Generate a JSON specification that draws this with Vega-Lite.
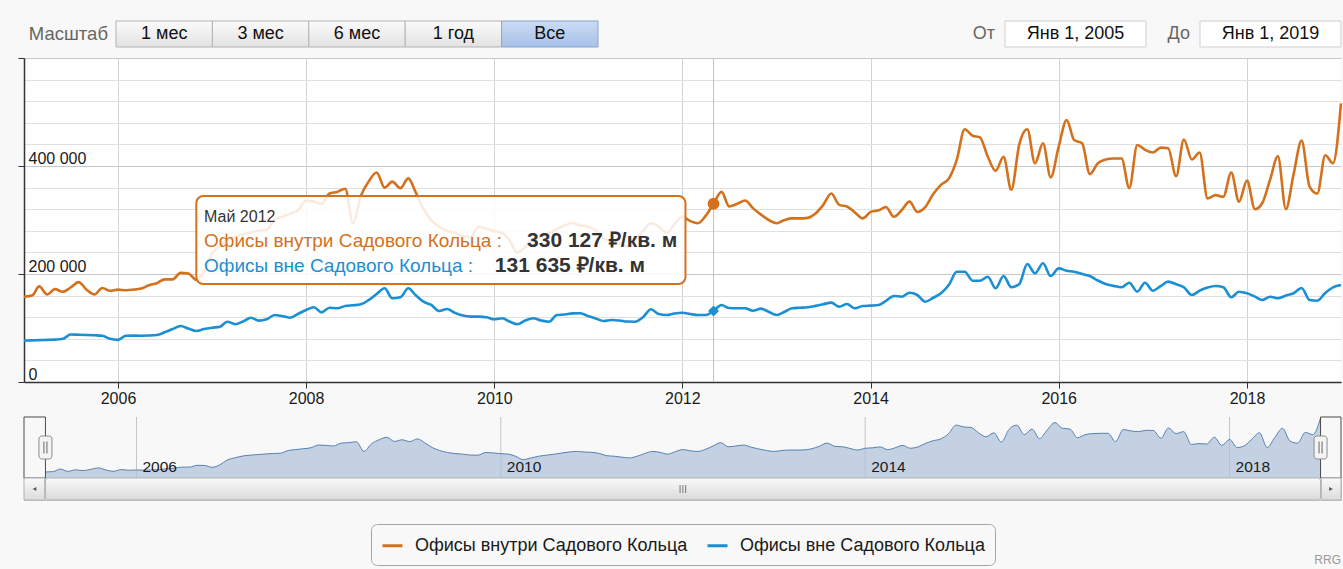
{
 "$schema": "https://vega.github.io/schema/vega-lite/v6.json",
 "background": "#f8f8f8",
 "padding": {"left": 17, "top": 0, "right": 0, "bottom": 0},
 "autosize": {"type": "pad"},
 "bounds": "flush",
 "spacing": 0,
 "config": {"view": {"stroke": null}, "font": "Liberation Sans"},
 "datasets": {
  "m": [
   {"d":"2005-01","in":158000,"out":76500},{"d":"2005-02","in":160000,"out":77000},{"d":"2005-03","in":177000,"out":77500},{"d":"2005-04","in":162000,"out":78000},{"d":"2005-05","in":172000,"out":78500},{"d":"2005-06","in":167000,"out":80000},{"d":"2005-07","in":175000,"out":88000},{"d":"2005-08","in":185000,"out":87500},{"d":"2005-09","in":171000,"out":87000},{"d":"2005-10","in":162000,"out":86500},{"d":"2005-11","in":174000,"out":85700},{"d":"2005-12","in":169000,"out":80000},
   {"d":"2006-01","in":171000,"out":78000},{"d":"2006-02","in":170000,"out":85700},{"d":"2006-03","in":171000,"out":85800},{"d":"2006-04","in":173000,"out":85700},{"d":"2006-05","in":179000,"out":86000},{"d":"2006-06","in":183000,"out":87000},{"d":"2006-07","in":190000,"out":92000},{"d":"2006-08","in":190000,"out":98000},{"d":"2006-09","in":202000,"out":103700},{"d":"2006-10","in":201000,"out":99000},{"d":"2006-11","in":189000,"out":94400},{"d":"2006-12","in":205000,"out":98000},
   {"d":"2007-01","in":238000,"out":100500},{"d":"2007-02","in":252000,"out":102400},{"d":"2007-03","in":263000,"out":111700},{"d":"2007-04","in":269000,"out":107000},{"d":"2007-05","in":273000,"out":112000},{"d":"2007-06","in":277000,"out":119100},{"d":"2007-07","in":280000,"out":113600},{"d":"2007-08","in":282000,"out":116000},{"d":"2007-09","in":300000,"out":124100},{"d":"2007-10","in":306000,"out":122000},{"d":"2007-11","in":312000,"out":119100},{"d":"2007-12","in":318000,"out":126000},
   {"d":"2008-01","in":336000,"out":133300},{"d":"2008-02","in":334000,"out":138300},{"d":"2008-03","in":330000,"out":129000},{"d":"2008-04","in":349000,"out":137600},{"d":"2008-05","in":352000,"out":136500},{"d":"2008-06","in":358000,"out":140700},{"d":"2008-07","in":294000,"out":142000},{"d":"2008-08","in":345000,"out":143800},{"d":"2008-09","in":372000,"out":152000},{"d":"2008-10","in":388000,"out":163000},{"d":"2008-11","in":360000,"out":173500},{"d":"2008-12","in":371000,"out":155000},
   {"d":"2009-01","in":359000,"out":156900},{"d":"2009-02","in":377000,"out":173500},{"d":"2009-03","in":352000,"out":161100},{"d":"2009-04","in":320000,"out":148700},{"d":"2009-05","in":300000,"out":142600},{"d":"2009-06","in":287000,"out":131500},{"d":"2009-07","in":280000,"out":135200},{"d":"2009-08","in":276000,"out":128000},{"d":"2009-09","in":270000,"out":123000},{"d":"2009-10","in":269000,"out":121000},{"d":"2009-11","in":287000,"out":121000},{"d":"2009-12","in":284000,"out":120000},
   {"d":"2010-01","in":279000,"out":116100},{"d":"2010-02","in":276000,"out":118000},{"d":"2010-03","in":262000,"out":112000},{"d":"2010-04","in":240000,"out":106900},{"d":"2010-05","in":250000,"out":114000},{"d":"2010-06","in":262000,"out":118000},{"d":"2010-07","in":269000,"out":114000},{"d":"2010-08","in":275000,"out":111700},{"d":"2010-09","in":283000,"out":124100},{"d":"2010-10","in":290000,"out":125000},{"d":"2010-11","in":294000,"out":127000},{"d":"2010-12","in":290000,"out":127200},
   {"d":"2011-01","in":288000,"out":122000},{"d":"2011-02","in":280000,"out":117000},{"d":"2011-03","in":266000,"out":113000},{"d":"2011-04","in":262000,"out":114800},{"d":"2011-05","in":256000,"out":114000},{"d":"2011-06","in":251000,"out":112000},{"d":"2011-07","in":262000,"out":111700},{"d":"2011-08","in":280000,"out":120000},{"d":"2011-09","in":294000,"out":134600},{"d":"2011-10","in":288000,"out":126000},{"d":"2011-11","in":276000,"out":124100},{"d":"2011-12","in":292000,"out":127000},
   {"d":"2012-01","in":306000,"out":128300},{"d":"2012-02","in":298000,"out":126000},{"d":"2012-03","in":294000,"out":124100},{"d":"2012-04","in":308000,"out":124100},{"d":"2012-05","in":330127,"out":131635},{"d":"2012-06","in":352000,"out":142600},{"d":"2012-07","in":325000,"out":137000},{"d":"2012-08","in":330000,"out":136500},{"d":"2012-09","in":336000,"out":136500},{"d":"2012-10","in":322000,"out":132000},{"d":"2012-11","in":310000,"out":135800},{"d":"2012-12","in":300000,"out":130000},
   {"d":"2013-01","in":294000,"out":124100},{"d":"2013-02","in":300000,"out":130000},{"d":"2013-03","in":303000,"out":136500},{"d":"2013-04","in":303000,"out":137500},{"d":"2013-05","in":304000,"out":138300},{"d":"2013-06","in":312000,"out":141000},{"d":"2013-07","in":328000,"out":144000},{"d":"2013-08","in":349000,"out":146900},{"d":"2013-09","in":328000,"out":139500},{"d":"2013-10","in":325000,"out":144400},{"d":"2013-11","in":314000,"out":136500},{"d":"2013-12","in":303000,"out":140700},
   {"d":"2014-01","in":315000,"out":141500},{"d":"2014-02","in":318000,"out":142600},{"d":"2014-03","in":324000,"out":150000},{"d":"2014-04","in":306000,"out":159300},{"d":"2014-05","in":318000,"out":158000},{"d":"2014-06","in":334000,"out":165400},{"d":"2014-07","in":315000,"out":161100},{"d":"2014-08","in":324000,"out":148700},{"d":"2014-09","in":348000,"out":156000},{"d":"2014-10","in":365000,"out":164300},{"d":"2014-11","in":377000,"out":180000},{"d":"2014-12","in":411000,"out":204300},
   {"d":"2015-01","in":468000,"out":204300},{"d":"2015-02","in":456000,"out":187600},{"d":"2015-03","in":453000,"out":187600},{"d":"2015-04","in":417000,"out":195000},{"d":"2015-05","in":391000,"out":173500},{"d":"2015-06","in":417000,"out":196300},{"d":"2015-07","in":356000,"out":175400},{"d":"2015-08","in":440000,"out":181500},{"d":"2015-09","in":468000,"out":218500},{"d":"2015-10","in":405000,"out":201300},{"d":"2015-11","in":442000,"out":219800},{"d":"2015-12","in":379000,"out":196300},
   {"d":"2016-01","in":436000,"out":210500},{"d":"2016-02","in":485000,"out":206000},{"d":"2016-03","in":448000,"out":204300},{"d":"2016-04","in":442000,"out":200000},{"d":"2016-05","in":385000,"out":196300},{"d":"2016-06","in":405000,"out":188000},{"d":"2016-07","in":412000,"out":181500},{"d":"2016-08","in":414000,"out":178000},{"d":"2016-09","in":414000,"out":175400},{"d":"2016-10","in":359000,"out":183900},{"d":"2016-11","in":439000,"out":167200},{"d":"2016-12","in":430000,"out":183900},
   {"d":"2017-01","in":425000,"out":169100},{"d":"2017-02","in":434000,"out":178000},{"d":"2017-03","in":433000,"out":185800},{"d":"2017-04","in":381000,"out":181000},{"d":"2017-05","in":449000,"out":175400},{"d":"2017-06","in":412000,"out":161100},{"d":"2017-07","in":425000,"out":169100},{"d":"2017-08","in":340000,"out":175000},{"d":"2017-09","in":346000,"out":177800},{"d":"2017-10","in":343000,"out":175400},{"d":"2017-11","in":388000,"out":156900},{"d":"2017-12","in":334000,"out":167200},
   {"d":"2018-01","in":373000,"out":164300},{"d":"2018-02","in":320000,"out":158000},{"d":"2018-03","in":331000,"out":151900},{"d":"2018-04","in":375000,"out":158000},{"d":"2018-05","in":418000,"out":155000},{"d":"2018-06","in":320000,"out":160000},{"d":"2018-07","in":385000,"out":164300},{"d":"2018-08","in":447000,"out":174100},{"d":"2018-09","in":362000,"out":151900},{"d":"2018-10","in":349000,"out":150600},{"d":"2018-11","in":420000,"out":165000},{"d":"2018-12","in":405000,"out":175400},
   {"d":"2019-01","in":516000,"out":179600}
  ]
 },
 "vconcat": [
  {
   "width": 1317, "height": 58,
   "layer": [
    {
     "data": {"values": [{"b":"1 мес"},{"b":"3 мес"},{"b":"6 мес"},{"b":"1 год"},{"b":"Все","on":true}]},
     "layer": [
      {"transform":[{"filter":"!datum.on"}],
       "mark":{"type":"rect","stroke":"#b4b4b4","strokeWidth":1,"fill":{"gradient":"linear","x1":0,"y1":0,"x2":0,"y2":1,"stops":[{"offset":0,"color":"#fbfbfb"},{"offset":1,"color":"#e2e2e2"}]}},
       "encoding":{
        "x":{"field":"b","type":"nominal","scale":{"type":"band","domain":["1 мес","3 мес","6 мес","1 год","Все"],"range":[92,574],"paddingInner":0,"paddingOuter":0},"axis":null},
        "y":{"datum":"r","type":"nominal","scale":{"type":"band","domain":["r"],"range":[21,47],"paddingInner":0,"paddingOuter":0},"axis":null}}},
      {"transform":[{"filter":"datum.on"}],
       "mark":{"type":"rect","stroke":"#89a4d0","strokeWidth":1,"fill":{"gradient":"linear","x1":0,"y1":0,"x2":0,"y2":1,"stops":[{"offset":0,"color":"#cbdbf3"},{"offset":1,"color":"#a8c1e9"}]}},
       "encoding":{
        "x":{"field":"b","type":"nominal","axis":null},
        "y":{"datum":"r","type":"nominal","axis":null}}},
      {"mark":{"type":"text","fontSize":18,"color":"#111111","baseline":"middle"},
       "encoding":{
        "x":{"field":"b","type":"nominal","bandPosition":0.5,"axis":null},
        "y":{"datum":"r","type":"nominal","bandPosition":0.5,"axis":null},
        "text":{"field":"b"}}},
      {"transform":[{"filter":"datum.b == '1 мес'"}],
       "mark":{"type":"text","fontSize":18.5,"color":"#666666","align":"right","baseline":"middle","dx":-8},
       "encoding":{
        "x":{"field":"b","type":"nominal","bandPosition":0,"axis":null},
        "y":{"datum":"r","type":"nominal","bandPosition":0.5,"axis":null},
        "text":{"value":"Масштаб"}}}
     ]
    },
    {
     "data": {"values": [{"l":"От","v":"Янв 1, 2005"},{"l":"До","v":"Янв 1, 2019"}]},
     "layer": [
      {"mark":{"type":"rect","fill":"#ffffff","stroke":"#cfcfcf","strokeWidth":1},
       "encoding":{
        "x":{"field":"l","type":"nominal","scale":{"type":"band","domain":["От","До"],"range":[981,1317],"paddingInner":0.277,"paddingOuter":0},"axis":null},
        "y":{"datum":"r","type":"nominal","scale":{"type":"band","domain":["r"],"range":[21,47],"paddingInner":0,"paddingOuter":0},"axis":null}}},
      {"mark":{"type":"text","fontSize":18,"color":"#111111","baseline":"middle"},
       "encoding":{
        "x":{"field":"l","type":"nominal","bandPosition":0.5,"axis":null},
        "y":{"datum":"r","type":"nominal","bandPosition":0.5,"axis":null},
        "text":{"field":"v"}}},
      {"mark":{"type":"text","fontSize":18,"color":"#666666","align":"right","baseline":"middle","dx":-10},
       "encoding":{
        "x":{"field":"l","type":"nominal","bandPosition":0,"axis":null},
        "y":{"datum":"r","type":"nominal","bandPosition":0.5,"axis":null},
        "text":{"field":"l"}}}
     ]
    }
   ],
   "resolve": {"scale": {"x": "independent", "y": "independent"}}
  },
  {
   "width": 1317, "height": 324,
   "view": {"fill": "#ffffff", "stroke": null},
   "layer": [
    {"data":{"values":[{}]},
     "mark":{"type":"rule","color":"#c2c2c2","strokeWidth":1},
     "encoding":{"x":{"datum":{"year":2012,"month":5,"date":1},"type":"temporal"}}},
    {"data":{"name":"m"},
     "transform":[{"fold":["in","out"],"as":["s","v"]}],
     "mark":{"type":"line","interpolate":"monotone","strokeWidth":2.6},
     "encoding":{
      "x":{"field":"d","type":"temporal","title":null,
       "scale":{"domain":[{"year":2005,"month":1,"date":1},{"year":2019,"month":1,"date":1}]},
       "axis":{"values":[{"year":2006,"month":1,"date":1},{"year":2008,"month":1,"date":1},{"year":2010,"month":1,"date":1},{"year":2012,"month":1,"date":1},{"year":2014,"month":1,"date":1},{"year":2016,"month":1,"date":1},{"year":2018,"month":1,"date":1}],
        "tickCount":20,
        "format":"%Y","grid":true,"gridColor":"#d3d3d3","tickColor":"#333333","tickSize":6,"domainColor":"#333333","domainWidth":1.5,
        "labelFontSize":16,"labelColor":"#1a1a1a","labelPadding":2,"labelFlush":false,"labelOverlap":false}},
      "y":{"field":"v","type":"quantitative","title":null,
       "scale":{"domain":[0,600000],"nice":false},
       "axis":{"values":[0,40000,80000,120000,160000,200000,240000,280000,320000,360000,400000,440000,480000,520000,560000,600000],
        "tickCount":20,
        "grid":true,
        "gridColor":{"condition":{"test":"datum.value % 200000 === 0","value":"#c8c8c8"},"value":"#e0e0e0"},
        "tickColor":{"condition":{"test":"datum.value % 200000 === 0","value":"#333333"},"value":"transparent"},
        "tickSize":6,"domainColor":"#333333","domainWidth":1.5,
        "labelExpr":"datum.value % 200000 === 0 && datum.value < 600000 ? replace(format(datum.value, ','), ',', ' ') : ''",
        "labelAlign":"left","labelBaseline":"alphabetic","labelPadding":-10,"labelOffset":-3,
        "labelFontSize":16,"labelColor":"#1a1a1a","labelOverlap":false}},
      "color":{"field":"s","type":"nominal",
       "scale":{"domain":["in","out"],"range":["#d4711c","#1b8fd4"]},
       "legend":{"orient":"none","legendX":347,"legendY":524,"direction":"horizontal","title":null,
        "symbolType":"stroke","symbolStrokeWidth":3,"symbolSize":400,
        "labelFontSize":18,"labelColor":"#1a1a1a","labelLimit":500,"labelOffset":11,"columnPadding":13,
        "strokeColor":"#a5a5a5","cornerRadius":6,"padding":10,
        "labelExpr":"datum.label == 'in' ? 'Офисы внутри Садового Кольца' : 'Офисы вне Садового Кольца'"}}}},
    {"data":{"values":[{}]},
     "mark":{"type":"rect","cornerRadius":7,"fill":"#ffffff","fillOpacity":0.86,"stroke":"#d4711c","strokeWidth":2},
     "encoding":{
      "x":{"datum":{"year":2006,"month":11,"date":1},"type":"temporal"},
      "x2":{"datum":{"year":2012,"month":1,"date":13}},
      "y":{"datum":344400,"type":"quantitative"},
      "y2":{"datum":181500}}},
    {"data":{"values":[{}]},
     "mark":{"type":"text","align":"left","baseline":"middle","fontSize":16,"color":"#333333"},
     "encoding":{
      "x":{"datum":{"year":2006,"month":12,"date":1},"type":"temporal"},
      "y":{"datum":305600,"type":"quantitative"},
      "text":{"value":"Май 2012"}}},
    {"data":{"values":[{}]},
     "mark":{"type":"text","align":"left","baseline":"middle","fontSize":19,"color":"#d4711c"},
     "encoding":{
      "x":{"datum":{"year":2006,"month":12,"date":1},"type":"temporal"},
      "y":{"datum":261100,"type":"quantitative"},
      "text":{"value":"Офисы внутри Садового Кольца :"}}},
    {"data":{"values":[{}]},
     "mark":{"type":"text","align":"left","baseline":"middle","fontSize":19,"color":"#1b8fd4"},
     "encoding":{
      "x":{"datum":{"year":2006,"month":12,"date":1},"type":"temporal"},
      "y":{"datum":214800,"type":"quantitative"},
      "text":{"value":"Офисы вне Садового Кольца :"}}},
    {"data":{"values":[{}]},
     "mark":{"type":"text","align":"left","baseline":"middle","fontSize":21,"fontWeight":"bold","color":"#333333"},
     "encoding":{
      "x":{"datum":{"year":2010,"month":5,"date":8},"type":"temporal"},
      "y":{"datum":261100,"type":"quantitative"},
      "text":{"value":"330 127 ₽/кв. м"}}},
    {"data":{"values":[{}]},
     "mark":{"type":"text","align":"left","baseline":"middle","fontSize":21,"fontWeight":"bold","color":"#333333"},
     "encoding":{
      "x":{"datum":{"year":2010,"month":1,"date":3},"type":"temporal"},
      "y":{"datum":214800,"type":"quantitative"},
      "text":{"value":"131 635 ₽/кв. м"}}},
    {"data":{"name":"m"},
     "transform":[{"filter":"utcyear(datum.d) == 2012 && utcmonth(datum.d) == 4"}],
     "mark":{"type":"point","shape":"circle","filled":true,"size":140,"color":"#d4711c","opacity":1},
     "encoding":{"x":{"field":"d","type":"temporal"},"y":{"field":"in","type":"quantitative"}}},
    {"data":{"name":"m"},
     "transform":[{"filter":"utcyear(datum.d) == 2012 && utcmonth(datum.d) == 4"}],
     "mark":{"type":"point","shape":"diamond","filled":true,"size":120,"color":"#1b8fd4","opacity":1},
     "encoding":{"x":{"field":"d","type":"temporal"},"y":{"field":"out","type":"quantitative"}}}
   ]
  },
  {
   "width": 1317, "height": 96,
   "layer": [
    {"data":{"values":[{"t":"2006-01"},{"t":"2010-01"},{"t":"2014-01"},{"t":"2018-01"}]},
     "mark":{"type":"rule","color":"#c6c6c6","strokeWidth":1},
     "encoding":{
      "x":{"field":"t","type":"temporal","axis":null,
       "scale":{"domain":[{"year":2004,"month":10,"date":7},{"year":2019,"month":3,"date":24}]}},
      "y":{"datum":522000,"type":"quantitative","axis":null,"scale":{"domain":[118000,753800],"zero":false,"nice":false}},
      "y2":{"datum":118000}}},
    {"data":{"name":"m"},
     "mark":{"type":"area","interpolate":"monotone","fill":"#adc0da","line":{"color":"#5580b5","strokeWidth":1}},
     "encoding":{
      "x":{"field":"d","type":"temporal","axis":null},
      "y":{"field":"in","type":"quantitative","axis":null}}},
    {"data":{"values":[{"t":"2006-01"},{"t":"2010-01"},{"t":"2014-01"},{"t":"2018-01"}]},
     "mark":{"type":"text","align":"left","baseline":"middle","dx":6,"fontSize":15.5,"color":"#1a1a1a"},
     "encoding":{
      "x":{"field":"t","type":"temporal"},
      "y":{"datum":190800,"type":"quantitative"},
      "text":{"field":"t","type":"temporal","format":"%Y"}}},
    {"data":{"values":[{}]},
     "mark":{"type":"rect","fillOpacity":0,"stroke":"#4a4a4a","strokeWidth":1},
     "encoding":{
      "x":{"datum":{"year":2004,"month":10,"date":7},"type":"temporal"},
      "x2":{"datum":{"year":2005,"month":1,"date":1}},
      "y":{"datum":522000,"type":"quantitative"},
      "y2":{"datum":118000}}},
    {"data":{"values":[{}]},
     "mark":{"type":"rect","fillOpacity":0,"stroke":"#4a4a4a","strokeWidth":1},
     "encoding":{
      "x":{"datum":{"year":2019,"month":1,"date":1},"type":"temporal"},
      "x2":{"datum":{"year":2019,"month":3,"date":24}},
      "y":{"datum":522000,"type":"quantitative"},
      "y2":{"datum":118000}}},
    {"data":{"values":[{"t":"2005-01"},{"t":"2019-01"}]},
     "mark":{"type":"rect","width":13,"height":23,"cornerRadius":3,"fill":"#f4f4f4","stroke":"#8c8c8c","strokeWidth":1},
     "encoding":{
      "x":{"field":"t","type":"temporal"},
      "y":{"datum":320000,"type":"quantitative"}}},
    {"data":{"values":[{"t":"2005-01"},{"t":"2019-01"}]},
     "mark":{"type":"point","shape":"M-0.25,-1L-0.25,1M0.25,-1L0.25,1","size":144,"filled":false,"stroke":"#666666","strokeWidth":1,"opacity":1},
     "encoding":{
      "x":{"field":"t","type":"temporal"},
      "y":{"datum":320000,"type":"quantitative"}}}
   ]
  },
  {
   "width": 1317, "height": 22,
   "view": {"fill": "#ececec", "stroke": "#c4c4c4"},
   "data": {"values": [{}]},
   "layer": [
    {"mark":{"type":"rect","cornerRadius":3,"stroke":"#b2b2b2","strokeWidth":1,"fill":{"gradient":"linear","x1":0,"y1":0,"x2":0,"y2":1,"stops":[{"offset":0,"color":"#fafafa"},{"offset":1,"color":"#d9d9d9"}]}},
     "encoding":{
      "x":{"datum":{"year":2005,"month":1,"date":1},"type":"temporal","axis":null,
       "scale":{"domain":[{"year":2004,"month":10,"date":7},{"year":2019,"month":3,"date":24}]}},
      "x2":{"datum":{"year":2019,"month":1,"date":1}}}},
    {"mark":{"type":"rect","stroke":"#b2b2b2","strokeWidth":1,"fill":{"gradient":"linear","x1":0,"y1":0,"x2":0,"y2":1,"stops":[{"offset":0,"color":"#fafafa"},{"offset":1,"color":"#dcdcdc"}]}},
     "encoding":{
      "x":{"datum":{"year":2004,"month":10,"date":7},"type":"temporal"},
      "x2":{"datum":{"year":2004,"month":12,"date":29}}}},
    {"mark":{"type":"rect","stroke":"#b2b2b2","strokeWidth":1,"fill":{"gradient":"linear","x1":0,"y1":0,"x2":0,"y2":1,"stops":[{"offset":0,"color":"#fafafa"},{"offset":1,"color":"#dcdcdc"}]}},
     "encoding":{
      "x":{"datum":{"year":2019,"month":1,"date":4},"type":"temporal"},
      "x2":{"datum":{"year":2019,"month":3,"date":24}}}},
    {"mark":{"type":"point","shape":"triangle-left","size":18,"filled":true,"color":"#555555","opacity":1},
     "encoding":{"x":{"datum":{"year":2004,"month":11,"date":18},"type":"temporal"}}},
    {"mark":{"type":"point","shape":"triangle-right","size":18,"filled":true,"color":"#555555","opacity":1},
     "encoding":{"x":{"datum":{"year":2019,"month":2,"date":12},"type":"temporal"}}},
    {"mark":{"type":"point","shape":"M-0.7,-1L-0.7,1M0,-1L0,1M0.7,-1L0.7,1","size":64,"filled":false,"stroke":"#777777","strokeWidth":1,"opacity":1},
     "encoding":{"x":{"datum":{"year":2012,"month":1,"date":1},"type":"temporal"}}}
   ]
  },
  {
   "width": 1317, "height": 69,
   "data": {"values": [{}]},
   "mark": {"type":"text","text":"RRG","align":"right","baseline":"bottom","dy":-2,"fontSize":12,"color":"#9a9a9a"},
   "encoding": {"x":{"value":"width"},"y":{"value":"height"}}
  }
 ]
}
